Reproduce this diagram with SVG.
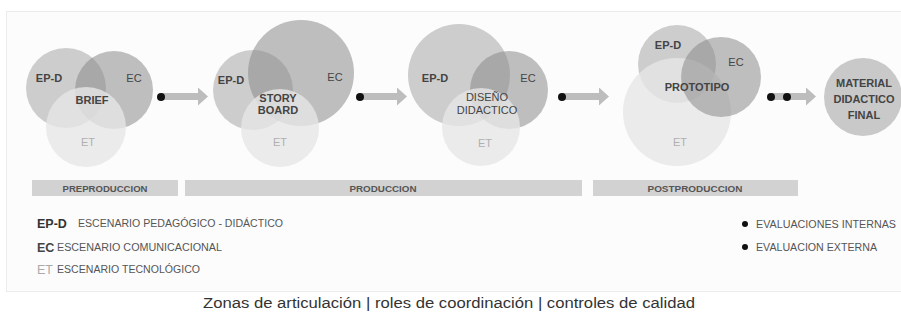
<svg xmlns="http://www.w3.org/2000/svg" width="901" height="321" viewBox="0 0 901 321">
<defs>
<style>
.t{font-family:"Liberation Sans",Arial,sans-serif}
.epd{fill:#cdcdcd}
.ec{fill:#8a8a8a;fill-opacity:0.55}
.et{fill:#e6e6e6;fill-opacity:0.8}
.lb{font-family:"Liberation Sans",Arial,sans-serif;font-size:11px;fill:#444;text-anchor:middle}
.b{font-weight:bold}
.etl{fill:#b0b0b0;font-weight:normal}
.bar{fill:#d2d2d2}
.bt{font-family:"Liberation Sans",Arial,sans-serif;font-size:9.5px;font-weight:bold;fill:#555;text-anchor:middle}
.lg{font-family:"Liberation Sans",Arial,sans-serif;font-size:10px;fill:#555}
.conn{stroke:#bdbdbd;stroke-width:7;fill:none}
.dot{fill:#111}
</style>
<marker id="ah" markerUnits="userSpaceOnUse" markerWidth="10" markerHeight="18" refX="0" refY="9" orient="auto">
<path d="M0,0 L10,9 L0,18 Z" fill="#bdbdbd"/>
</marker>
</defs>
<rect width="901" height="321" fill="#ffffff"/>
<rect x="6.5" y="11.5" width="900" height="280" fill="#fcfcfc" stroke="#ececec"/>

<g id="brief">
<circle class="epd" cx="66" cy="88" r="40"/>
<circle class="ec" cx="114" cy="90" r="39"/>
<circle class="et" cx="86" cy="127" r="40"/>
<text class="lb b" x="49" y="82">EP-D</text>
<text class="lb" x="134" y="82">EC</text>
<text class="lb b" x="92" y="104" font-size="10.5">BRIEF</text>
<text class="lb etl" x="88" y="146">ET</text>
</g>

<g id="storyboard">
<circle class="epd" cx="253" cy="90" r="40"/>
<circle class="ec" cx="301" cy="73" r="53"/>
<circle class="et" cx="280" cy="128" r="39"/>
<text class="lb b" x="231" y="84">EP-D</text>
<text class="lb" x="335" y="81">EC</text>
<text class="lb b" x="278" y="102">STORY</text>
<text class="lb b" x="278" y="114">BOARD</text>
<text class="lb etl" x="280" y="146">ET</text>
</g>

<g id="diseno">
<circle class="epd" cx="459" cy="75" r="51"/>
<circle class="ec" cx="509" cy="90" r="39"/>
<circle class="et" cx="481" cy="127" r="39"/>
<text class="lb b" x="435" y="82">EP-D</text>
<text class="lb" x="528" y="82">EC</text>
<text class="lb" x="487" y="101" fill="#707070">DISEÑO</text>
<text class="lb" x="487" y="114" fill="#707070">DIDACTICO</text>
<text class="lb etl" x="485" y="147">ET</text>
</g>

<g id="prototipo">
<circle class="epd" cx="677" cy="64" r="39"/>
<circle class="et" cx="677" cy="112" r="54"/>
<circle class="ec" cx="721" cy="77" r="40"/>
<text class="lb b" x="668" y="49">EP-D</text>
<text class="lb" x="736" y="66">EC</text>
<text class="lb b" x="697" y="91">PROTOTIPO</text>
<text class="lb etl" x="680" y="146">ET</text>
</g>

<g id="material">
<circle cx="863" cy="97" r="39" fill="#c9c9c9"/>
<text class="lb b" x="864" y="87">MATERIAL</text>
<text class="lb b" x="864" y="103">DIDACTICO</text>
<text class="lb b" x="864" y="119">FINAL</text>
</g>

<g id="connectors">
<path class="conn" d="M161,96.5 H198" marker-end="url(#ah)"/>
<path class="conn" d="M360,96.5 H397" marker-end="url(#ah)"/>
<path class="conn" d="M562,96.5 H599" marker-end="url(#ah)"/>
<path class="conn" d="M771,96.5 H806" marker-end="url(#ah)"/>
<circle class="dot" cx="161" cy="97" r="4"/>
<circle class="dot" cx="360" cy="97" r="4"/>
<circle class="dot" cx="562" cy="97" r="4"/>
<circle class="dot" cx="771" cy="97" r="4"/>
<circle class="dot" cx="787" cy="97" r="4"/>
</g>

<g id="phases">
<rect class="bar" x="32" y="180" width="146" height="16"/>
<rect class="bar" x="185" y="180" width="397" height="16"/>
<rect class="bar" x="593" y="180" width="205" height="16"/>
<text class="bt" x="105" y="191.5" textLength="85" lengthAdjust="spacingAndGlyphs">PREPRODUCCION</text>
<text class="bt" x="383" y="191.5" textLength="67" lengthAdjust="spacingAndGlyphs">PRODUCCION</text>
<text class="bt" x="695" y="191.5" textLength="95" lengthAdjust="spacingAndGlyphs">POSTPRODUCCION</text>
</g>

<g id="legend">
<text class="t" x="37" y="227.5" font-size="12.5" font-weight="bold" fill="#333">EP-D</text>
<text class="lg" x="78" y="227" textLength="205" lengthAdjust="spacingAndGlyphs">ESCENARIO PEDAGÓGICO - DIDÁCTICO</text>
<text class="t" x="37" y="251.5" font-size="12.5" font-weight="bold" fill="#444">EC</text>
<text class="lg" x="57" y="251" textLength="165" lengthAdjust="spacingAndGlyphs">ESCENARIO COMUNICACIONAL</text>
<text class="t" x="37" y="273.5" font-size="12.5" fill="#aaa">ET</text>
<text class="lg" x="57" y="273" textLength="143" lengthAdjust="spacingAndGlyphs">ESCENARIO TECNOLÓGICO</text>
<circle class="dot" cx="745" cy="224" r="3"/>
<text class="lg" x="756" y="227.5" textLength="140" lengthAdjust="spacingAndGlyphs">EVALUACIONES INTERNAS</text>
<circle class="dot" cx="745" cy="247" r="3"/>
<text class="lg" x="756" y="250.5" textLength="121" lengthAdjust="spacingAndGlyphs">EVALUACION EXTERNA</text>
</g>

<text class="t" x="203" y="308" font-size="15.5" fill="#333" textLength="492" lengthAdjust="spacingAndGlyphs">Zonas de articulación | roles de coordinación | controles de calidad</text>
</svg>
